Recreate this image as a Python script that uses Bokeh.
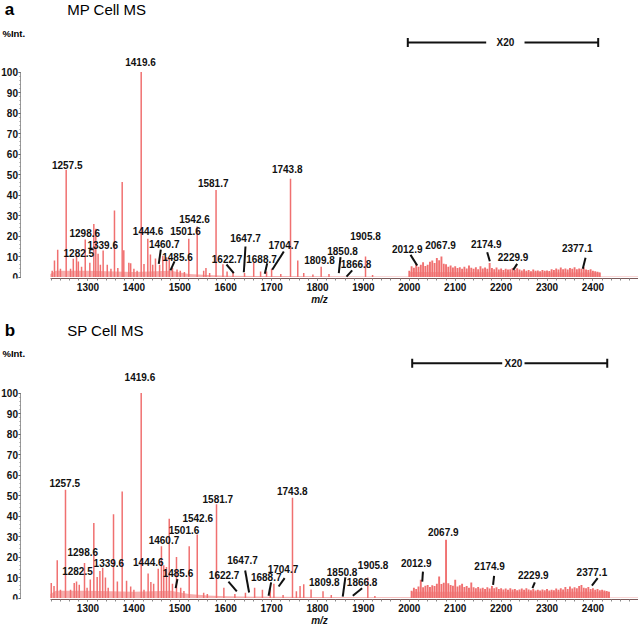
from bokeh.plotting import figure
from bokeh.models import Range1d, Label, FixedTicker
from bokeh.layouts import column
from bokeh.embed import file_html
from bokeh.resources import INLINE
from bokeh.core.properties import value

# ---------------- data: panel a (MP Cell MS) ----------------
a_mz = [1222, 1227, 1234, 1240, 1252.5, 1262, 1268, 1275, 1279, 1286, 1294, 1304,
        1312.7, 1317, 1322, 1327, 1333, 1342, 1350, 1357.7, 1365, 1374.5, 1378, 1389,
        1393, 1400, 1407, 1415.9, 1422, 1430.3, 1436, 1441, 1447, 1456, 1463, 1471,
        1477, 1484, 1494, 1501, 1510, 1519.6, 1537.9, 1552, 1557, 1565, 1579, 1594,
        1603, 1616, 1641, 1661, 1676, 1689, 1700, 1720, 1741.2, 1757, 1770, 1790,
        1808, 1825, 1904.6, 1920]
a_int = [3.0, 8.0, 13.3, 4.0, 52.3, 4.0, 8.9, 10.5, 7.6, 5.0, 18.3, 7.0,
         25.9, 23.5, 11.3, 6.0, 12.9, 6.0, 4.0, 32.4, 4.4, 46.3, 13.0, 7.0,
         6.7, 4.0, 3.0, 100.0, 6.3, 18.6, 11.0, 6.0, 9.0, 6.0, 10.4, 9.6,
         8.9, 4.4, 3.6, 3.0, 2.5, 18.6, 24.6, 3.0, 4.4, 2.0, 42.5, 6.2,
         2.7, 2.4, 2.0, 7.0, 2.7, 2.7, 4.0, 1.5, 47.9, 8.0, 2.0, 1.2,
         5.0, 1.5, 10.0, 1.0]
# x20 magnified region
a_x20_mz = [2000, 2005, 2010, 2015, 2020, 2025, 2030, 2035, 2040, 2045, 2050, 2055,
            2060, 2065, 2070, 2075, 2080, 2085, 2090, 2095, 2100, 2105, 2110, 2115,
            2120, 2125, 2130, 2135, 2140, 2145, 2150, 2155, 2160, 2165, 2170, 2175,
            2180, 2185, 2190, 2195, 2200, 2205, 2210, 2215, 2220, 2225, 2230, 2235,
            2240, 2245, 2250, 2255, 2260, 2265, 2270, 2275, 2280, 2285, 2290, 2295,
            2300, 2305, 2310, 2315, 2320, 2325, 2330, 2335, 2340, 2345, 2350, 2355,
            2360, 2365, 2370, 2375, 2380, 2385, 2390, 2395, 2400, 2405, 2410, 2415]
a_x20_int = [3.0, 5.2, 4.5, 6.4, 5.0, 6.0, 7.2, 5.4, 6.0, 7.5, 8.0, 6.8,
             9.3, 8.2, 10.0, 6.5, 6.2, 5.0, 5.6, 4.6, 5.2, 4.4, 4.8, 4.0,
             5.0, 4.2, 5.6, 4.5, 4.0, 4.8, 3.8, 5.2, 4.2, 4.6, 4.0, 6.8,
             4.4, 3.8, 4.6, 3.6, 4.2, 3.4, 4.0, 3.6, 3.8, 4.4, 3.5, 4.3,
             3.6, 3.2, 3.8, 3.0, 3.4, 2.8, 3.6, 3.0, 3.2, 2.8, 3.4, 3.0,
             3.2, 2.9, 3.8, 3.4, 4.2, 3.6, 4.6, 3.8, 4.2, 3.6, 4.4, 4.0,
             4.8, 3.8, 4.2, 4.0, 4.8, 3.6, 3.4, 3.8, 3.0, 2.8, 2.6, 2.2]
a_base_mz = [1218, 1230, 1300, 1400, 1480, 1520, 1560, 1600, 1700, 1800, 1900, 1999,
             1999.5, 2415, 2415.5, 2500]
a_base_int = [1.5, 3.0, 3.0, 2.5, 3.0, 1.5, 1.0, 0.6, 0.5, 0.4, 0.3, 0.3,
              2.4, 2.2, 0.2, 0.2]
a_lab_text = ["1257.5", "1282.5", "1298.6", "1339.6", "1419.6", "1444.6", "1460.7",
              "1485.6", "1501.6", "1542.6", "1581.7", "1622.7", "1647.7", "1688.7",
              "1704.7", "1743.8", "1809.8", "1850.8", "1866.8", "1905.8", "2012.9",
              "2067.9", "2174.9", "2229.9", "2377.1"]
a_lab_mz = [1254.7, 1280.0, 1293.0, 1332.0, 1414.4, 1431.0, 1466.0, 1495.0, 1512.4,
            1532.0, 1572.8, 1603.0, 1643.0, 1678.0, 1726.6, 1734.0, 1804.4, 1854.5,
            1884.0, 1904.6, 1995.4, 2068.0, 2167.5, 2226.0, 2365.8]
a_lab_int = [54.7, 11.8, 21.6, 15.5, 105.1, 22.2, 15.9, 10.0, 22.2, 28.4, 45.8, 8.9,
             19.1, 8.9, 15.4, 52.8, 8.4, 12.6, 6.1, 20.1, 13.6, 15.5, 16.0, 10.0, 14.0]
a_lead_mz0 = [1458.6, 1488.5, 1601.7, 1643.1, 1690.4, 1726.6, 1850.1, 1875.6, 2002.6, 2169.7, 2235.0, 2383.9]
a_lead_i0 = [13.4, 7.6, 6.1, 14.9, 6.7, 12.4, 9.7, 3.2, 10.8, 12.1, 6.4, 9.4]
a_lead_mz1 = [1454.2, 1479.7, 1617.6, 1639.5, 1685.2, 1701.3, 1846.4, 1863.2, 2017.2, 2175.4, 2226.4, 2378.0]
a_lead_i1 = [6.4, 3.2, 1.9, 2.3, 1.6, 3.5, 1.9, 0.2, 5.6, 7.7, 3.5, 4.0]
a_bar_mz = [1996.7, 2167.5, 2251.0, 2411.5]   # bar start, gap start, gap end, bar end
a_bar_int = 114.4

# ---------------- data: panel b (SP Cell MS) ----------------
b_mz = [1220, 1226, 1233, 1240, 1251, 1262, 1270, 1275, 1281, 1292.4, 1298, 1305,
        1312.7, 1320, 1326, 1332, 1338, 1344, 1355.6, 1364, 1374.5, 1384, 1393, 1400,
        1415.9, 1422, 1431, 1437, 1443, 1453, 1460, 1465, 1471, 1477, 1484, 1492.8,
        1502, 1509, 1520.5, 1538, 1552, 1560, 1580, 1596, 1620, 1643, 1663, 1680,
        1697, 1705, 1725, 1745.5, 1754, 1762, 1770, 1786, 1812, 1830, 1909.6, 1925]
b_int = [7.3, 5.9, 18.4, 4.0, 52.8, 4.0, 7.3, 8.1, 6.5, 17.1, 5.0, 9.0,
         36.6, 10.3, 13.2, 14.8, 10.0, 5.0, 40.8, 8.0, 52.0, 8.4, 5.6, 4.0,
         100.0, 4.0, 11.9, 7.8, 7.0, 14.3, 25.2, 16.0, 15.1, 38.7, 7.0, 20.0,
         5.0, 3.4, 25.3, 31.0, 2.6, 2.0, 45.7, 5.0, 2.0, 2.6, 5.0, 4.0,
         4.5, 7.0, 1.5, 48.9, 3.3, 5.8, 6.7, 4.1, 3.3, 1.5, 10.0, 1.0]
b_x20_mz = [2005, 2010, 2015, 2020, 2025, 2030, 2035, 2040, 2045, 2050, 2055, 2060,
            2065, 2070, 2075, 2080, 2085, 2090, 2095, 2100, 2105, 2110, 2115, 2120,
            2125, 2130, 2135, 2140, 2145, 2150, 2155, 2160, 2165, 2170, 2175, 2180,
            2185, 2190, 2195, 2200, 2205, 2210, 2215, 2220, 2225, 2230, 2235, 2240,
            2245, 2250, 2255, 2260, 2265, 2270, 2275, 2280, 2285, 2290, 2295, 2300,
            2305, 2310, 2315, 2320, 2325, 2330, 2335, 2340, 2345, 2350, 2355, 2360,
            2365, 2370, 2375, 2380, 2385, 2390, 2395, 2400, 2405, 2410, 2415, 2420,
            2425, 2430, 2435]
b_x20_int = [3.5, 5.0, 4.4, 5.6, 8.9, 5.2, 6.0, 6.4, 5.4, 6.2, 5.8, 7.0,
             10.5, 6.8, 7.4, 28.4, 7.2, 6.4, 6.0, 8.9, 5.6, 6.2, 7.0, 5.4,
             5.8, 5.0, 7.6, 5.2, 4.8, 5.4, 4.6, 5.0, 4.4, 5.2, 4.6, 5.8,
             4.8, 5.2, 4.4, 4.8, 4.2, 4.6, 4.0, 4.8, 4.2, 4.4, 3.8, 4.2,
             4.6, 4.0, 4.8, 4.2, 3.8, 4.4, 3.6, 4.0, 3.6, 4.2, 3.8, 4.4,
             3.6, 4.0, 3.8, 4.6, 4.0, 4.8, 4.2, 5.4, 4.4, 5.6, 4.6, 5.2,
             4.8, 5.8, 6.4, 5.0, 4.8, 5.4, 4.4, 4.8, 4.0, 4.4, 3.8, 4.0,
             3.6, 3.4, 3.0]
b_base_mz = [1218, 1230, 1300, 1400, 1480, 1520, 1560, 1600, 1700, 1800, 1900, 2004,
             2004.5, 2435, 2435.5, 2500]
b_base_int = [2.0, 3.5, 3.5, 3.0, 3.5, 2.0, 1.2, 0.8, 0.6, 0.5, 0.4, 0.4,
              3.0, 3.0, 0.2, 0.2]
b_lab_text = a_lab_text
b_lab_mz = [1249.3, 1277.0, 1288.6, 1345.5, 1413.1, 1431.4, 1465.5, 1496.0, 1509.2,
            1539.0, 1582.8, 1596.6, 1636.7, 1688.3, 1724.7, 1745.0, 1814.9, 1853.5,
            1897.2, 1921.2, 2015.0, 2074.0, 2175.0, 2270.0, 2397.8]
b_lab_int = [56.3, 13.4, 22.3, 17.0, 107.6, 17.8, 28.4, 12.1, 33.3, 38.9, 48.4, 11.3,
             18.3, 10.1, 14.2, 52.0, 7.6, 12.6, 7.7, 15.9, 17.0, 32.1, 15.7, 11.3, 12.6]
b_lead_mz0 = [1494.8, 1606.0, 1642.4, 1699.0, 1728.4, 1860.7, 1897.2, 2029.7, 2184.7, 2273.4, 2410.3]
b_lead_i0 = [9.2, 8.0, 13.4, 7.6, 9.7, 10.1, 4.8, 12.9, 10.8, 7.6, 9.7]
b_lead_mz1 = [1491.0, 1624.2, 1651.0, 1693.4, 1715.3, 1855.0, 1876.9, 2028.2, 2182.5, 2268.3, 2397.8]
b_lead_i1 = [4.8, 3.2, 2.7, 1.1, 5.6, 0.7, 1.1, 8.0, 6.4, 4.8, 6.0]
b_bar_mz = [2006.3, 2202.4, 2251.0, 2431.2]
b_bar_int = 114.5

# axis ticks
x_ticks = [1300, 1400, 1500, 1600, 1700, 1800, 1900, 2000, 2100, 2200, 2300, 2400]
y_ticks = [0, 10, 20, 30, 40, 50, 60, 70, 80, 90, 100]

FONT = "Liberation Sans"
PEAK = "#f07070"
FILL = "#f5a0a0"
AX = "#333333"
X0, X1 = 1109.4, 2499.3     # visible m/z window
Y_AXIS_AT = 1154.0          # m/z where the intensity axis is drawn
Y0 = -0.73
PXU = 2.05                  # px per % unit


def panel(letter, title, mz, inten, gmz, gint, bmz, bint, lt, lx, ly,
          l0x, l0y, l1x, l1y, bar, bar_y, fh, title_y, int_y):
    p = figure(width=638, frame_height=fh,
               x_range=Range1d(X0, X1), y_range=Range1d(Y0, Y0 + fh / PXU),
               output_backend="svg", toolbar_location=None,
               min_border_left=0, min_border_right=0,
               min_border_top=0, min_border_bottom=0)
    p.grid.visible = False
    p.outline_line_color = None
    p.background_fill_color = "white"

    p.varea(x=bmz, y1=0, y2=bint, fill_color=FILL, fill_alpha=0.85)
    p.segment(x0=gmz, y0=0, x1=gmz, y1=gint, line_color=PEAK, line_width=1.9)
    p.segment(x0=mz, y0=0, x1=mz, y1=inten, line_color=PEAK, line_width=1.5)

    p.text(x=lx, y=ly, text=lt, text_font=value(FONT), text_font_size="10px",
           text_font_style="bold", text_align="center", text_baseline="middle",
           text_color="#111111")
    p.segment(x0=l0x, y0=l0y, x1=l1x, y1=l1y, line_color="#111111", line_width=2)

    # X20 bar
    p.segment(x0=[bar[0], bar[2]], y0=[bar_y, bar_y], x1=[bar[1], bar[3]], y1=[bar_y, bar_y],
              line_color="#111111", line_width=2)
    p.segment(x0=[bar[0], bar[3]], y0=[bar_y - 2.2, bar_y - 2.2],
              x1=[bar[0], bar[3]], y1=[bar_y + 2.2, bar_y + 2.2],
              line_color="#111111", line_width=2)
    p.text(x=[(bar[1] + bar[2]) / 2], y=[bar_y], text=["X20"], text_font=value(FONT),
           text_font_size="10px", text_font_style="bold", text_align="center",
           text_baseline="middle", text_color="#111111")

    p.add_layout(Label(x=1118.5, y=title_y, text=letter, text_font=FONT,
                       text_font_size="17px", text_font_style="bold",
                       text_baseline="middle", text_align="left", text_color="#000000"))
    p.add_layout(Label(x=1254.7, y=title_y, text=title, text_font=FONT,
                       text_font_size="15px", text_baseline="middle",
                       text_align="left", text_color="#000000"))
    p.add_layout(Label(x=1113.7, y=int_y, text="%Int.", text_font=FONT,
                       text_font_size="9.5px", text_font_style="bold",
                       text_baseline="middle", text_align="left", text_color="#000000"))

    ya = p.yaxis[0]
    ya.fixed_location = Y_AXIS_AT
    ya.ticker = FixedTicker(ticks=y_ticks, minor_ticks=[i * 2 for i in range(51)])
    ya.bounds = (0, 100)
    ya.axis_line_color = AX
    ya.axis_line_dash = "1 1"
    ya.major_tick_out = 2
    ya.major_tick_in = 0
    ya.minor_tick_out = 1
    ya.minor_tick_in = 0
    ya.major_tick_line_color = AX
    ya.minor_tick_line_color = "#888888"
    ya.major_label_standoff = 1
    ya.major_label_text_font = FONT
    ya.major_label_text_font_size = "10px"
    ya.major_label_text_font_style = "bold"
    ya.major_label_text_color = "#111111"

    xa = p.xaxis[0]
    xa.ticker = FixedTicker(ticks=x_ticks, minor_ticks=[1220 + 20 * i for i in range(65)])
    xa.bounds = (1218, 2500)
    xa.axis_line_color = "#7a5a5a"
    xa.major_tick_out = 2
    xa.major_tick_in = 0
    xa.minor_tick_out = 2
    xa.minor_tick_in = 0
    xa.major_tick_line_color = "#555555"
    xa.minor_tick_line_color = "#888888"
    xa.major_label_standoff = 2
    xa.major_label_text_font = FONT
    xa.major_label_text_font_size = "10px"
    xa.major_label_text_font_style = "bold"
    xa.major_label_text_color = "#111111"
    xa.axis_label = "m/z"
    xa.axis_label_text_font = FONT
    xa.axis_label_text_font_size = "10px"
    xa.axis_label_text_font_style = "bold italic"
    xa.axis_label_standoff = 0
    xa.axis_label_text_color = "#111111"
    return p


pa = panel("a", "MP Cell MS", a_mz, a_int, a_x20_mz, a_x20_int, a_base_mz, a_base_int,
           a_lab_text, a_lab_mz, a_lab_int, a_lead_mz0, a_lead_i0, a_lead_mz1, a_lead_i1,
           a_bar_mz, a_bar_int, 278, 130.3, 118.8)
pb = panel("b", "SP Cell MS", b_mz, b_int, b_x20_mz, b_x20_int, b_base_mz, b_base_int,
           b_lab_text, b_lab_mz, b_lab_int, b_lead_mz0, b_lead_i0, b_lead_mz1, b_lead_i1,
           b_bar_mz, b_bar_int, 292, 130.7, 119.3)

layout = column(pa, pb, spacing=0)
open("out.html", "w").write(file_html(layout, INLINE))
